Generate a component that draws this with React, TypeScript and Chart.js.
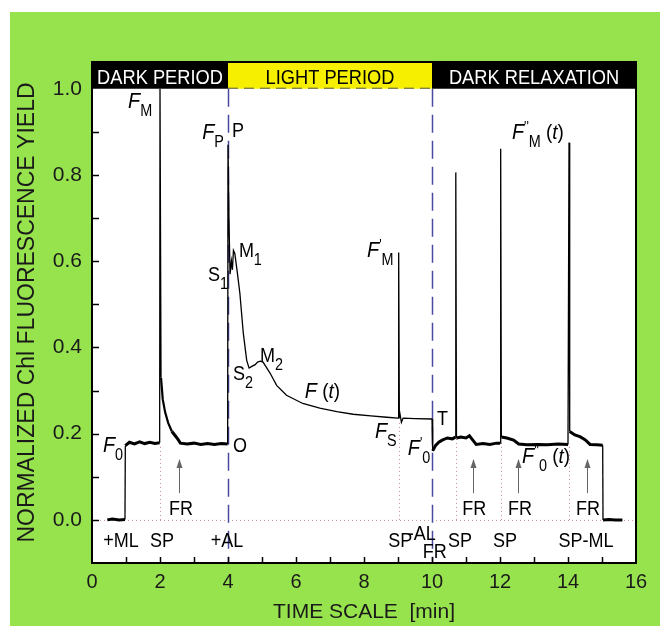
import React, { useEffect, useRef } from "react";
import { Chart, registerables } from "chart.js";

Chart.register(...registerables);

// ---- data (time in min, normalized Chl fluorescence yield) ----
const darkTime = [0.45, 0.6, 0.8, 0.97, 0.98, 1.1, 1.25, 1.4, 1.55, 1.7, 1.85, 1.99, 2.0, 2.02, 2.03, 2.08, 2.15, 2.24, 2.35, 2.5, 2.6, 2.8, 3.0, 3.2, 3.4, 3.6, 3.8, 3.99];
const darkYield = [0.0, 0.002, 0.0, 0.001, 0.172, 0.18, 0.176, 0.181, 0.177, 0.18, 0.177, 0.179, 1.0, 1.0, 0.33, 0.28, 0.25, 0.225, 0.205, 0.19, 0.178, 0.176, 0.178, 0.175, 0.177, 0.175, 0.177, 0.176];
const lightTime = [4.0, 4.03, 4.06, 4.1, 4.13, 4.16, 4.2, 4.28, 4.35, 4.45, 4.55, 4.62, 4.7, 4.8, 4.87, 4.95, 5.03, 5.12, 5.24, 5.43, 5.72, 6.2, 6.7, 7.2, 7.68, 8.2, 8.67, 9.0, 9.02, 9.04, 9.06, 9.1, 9.15, 9.5, 9.99];
const lightYield = [0.87, 0.69, 0.57, 0.6, 0.58, 0.625, 0.618, 0.57, 0.525, 0.433, 0.37, 0.352, 0.356, 0.36, 0.366, 0.368, 0.366, 0.355, 0.34, 0.312, 0.289, 0.27, 0.259, 0.251, 0.245, 0.241, 0.238, 0.236, 0.62, 0.236, 0.245, 0.226, 0.236, 0.235, 0.234];
const relaxTime = [10.0, 10.02, 10.1, 10.2, 10.3, 10.45, 10.6, 10.69, 10.7, 10.72, 10.85, 11.0, 11.1, 11.2, 11.3, 11.5, 11.7, 11.9, 12.0, 12.02, 12.04, 12.2, 12.4, 12.55, 12.8, 13.1, 13.4, 13.7, 14.0, 14.03, 14.05, 14.2, 14.35, 14.5, 14.65, 14.85, 15.02, 15.03, 15.2, 15.4, 15.6];
const relaxYield = [0.234, 0.16, 0.172, 0.18, 0.185, 0.19, 0.188, 0.192, 0.806, 0.19, 0.192, 0.19, 0.195, 0.185, 0.175, 0.177, 0.175, 0.178, 0.178, 0.861, 0.192, 0.19, 0.185, 0.176, 0.174, 0.175, 0.174, 0.176, 0.175, 0.875, 0.205, 0.197, 0.193, 0.186, 0.175, 0.174, 0.173, 0.0, 0.001, 0.0, 0.0];

const xTickValues = [0, 2, 4, 6, 8, 10, 12, 14, 16];
const yTickValues = [0.0, 0.2, 0.4, 0.6, 0.8, 1.0];
const periodNames = ["DARK PERIOD", "LIGHT PERIOD", "DARK RELAXATION"];
const periodBounds = [0, 4, 10, 16];
const frArrowTimes = [2.56, 11.2, 12.53, 14.56];
const frLabelTimes = [2.62, 11.24, 12.59, 14.59];
const dottedTimes = [2.0, 9.03, 10.7, 12.02, 14.03];
const dottedTops = [0.17, 0.23, 0.19, 0.178, 0.175];

const FONT = "'Liberation Sans', Arial, sans-serif";

type Part = { t: string; size: number; italic?: boolean; dy?: number };

function drawParts(ctx: CanvasRenderingContext2D, x: number, y: number, parts: Part[], sx = 0.9) {
  ctx.save();
  ctx.translate(x, y);
  ctx.scale(sx, 1);
  let cx = 0;
  for (const p of parts) {
    ctx.font = `${p.italic ? "italic " : ""}${p.size}px ${FONT}`;
    ctx.fillText(p.t, cx, p.dy || 0);
    cx += ctx.measureText(p.t).width;
  }
  ctx.restore();
}

function partsWidth(ctx: CanvasRenderingContext2D, parts: Part[], sx = 0.9) {
  let w = 0;
  for (const p of parts) {
    ctx.font = `${p.italic ? "italic " : ""}${p.size}px ${FONT}`;
    w += ctx.measureText(p.t).width;
  }
  return w * sx;
}

const bgPlugin = {
  id: "bg",
  beforeDraw(chart: any) {
    const ctx = chart.ctx;
    const { left, top, right, bottom } = chart.chartArea;
    ctx.save();
    ctx.fillStyle = "#ffffff";
    ctx.fillRect(0, 0, chart.width, chart.height);
    ctx.fillStyle = "#97e34e";
    ctx.fillRect(10, 12, 650, chart.height - 12);
    ctx.fillStyle = "#ffffff";
    ctx.fillRect(left, top, right - left, bottom - top);
    ctx.restore();
  },
  beforeDatasetsDraw(chart: any) {
    const ctx = chart.ctx;
    const xs = chart.scales.x;
    const ys = chart.scales.y;
    const { bottom } = chart.chartArea;
    ctx.save();
    // dotted zero line
    ctx.strokeStyle = "#c98a8a";
    ctx.lineWidth = 1;
    ctx.setLineDash([1, 3]);
    ctx.beginPath();
    ctx.moveTo(xs.getPixelForValue(0), ys.getPixelForValue(0) + 0.5);
    ctx.lineTo(xs.getPixelForValue(16), ys.getPixelForValue(0) + 0.5);
    ctx.stroke();
    dottedTimes.forEach((t, i) => {
      const px = Math.round(xs.getPixelForValue(t)) + 0.5;
      ctx.beginPath();
      ctx.moveTo(px, ys.getPixelForValue(0));
      ctx.lineTo(px, ys.getPixelForValue(dottedTops[i]));
      ctx.stroke();
    });
    // dashed period separators
    ctx.strokeStyle = "#4a4aa0";
    ctx.lineWidth = 1.5;
    ctx.setLineDash([18, 8]);
    [4, 10].forEach((t) => {
      const px = Math.round(xs.getPixelForValue(t)) + 0.5;
      ctx.beginPath();
      ctx.moveTo(px, ys.getPixelForValue(1.0));
      ctx.lineTo(px, bottom);
      ctx.stroke();
    });
    ctx.setLineDash([]);
    ctx.restore();
  },
  afterDatasetsDraw(chart: any) {
    const ctx = chart.ctx;
    const xs = chart.scales.x;
    const ys = chart.scales.y;
    const { left, top, right, bottom } = chart.chartArea;
    const X = (t: number) => xs.getPixelForValue(t);
    const Y = (v: number) => ys.getPixelForValue(v);
    ctx.save();
    // header bars
    const hb = Y(1.0);
    for (let i = 0; i < 3; i++) {
      const x0 = X(periodBounds[i]);
      const x1 = X(periodBounds[i + 1]);
      ctx.fillStyle = i === 1 ? "#f6f000" : "#000000";
      ctx.fillRect(x0, top, x1 - x0, hb - top);
      ctx.fillStyle = i === 1 ? "#000000" : "#ffffff";
      const parts = [{ t: periodNames[i], size: 21 }];
      const w = partsWidth(ctx, parts, 0.87);
      drawParts(ctx, (x0 + x1) / 2 - w / 2, top + 22, parts, 0.87);
    }
    ctx.strokeStyle = "#555";
    ctx.lineWidth = 1;
    ctx.setLineDash([10, 6]);
    ctx.beginPath();
    ctx.moveTo(X(4), hb - 0.5);
    ctx.lineTo(X(10), hb - 0.5);
    ctx.stroke();
    ctx.setLineDash([]);

    // inward tick marks
    ctx.strokeStyle = "#000";
    ctx.lineWidth = 1.5;
    ctx.beginPath();
    for (let t = 1; t < 16; t++) {
      const px = Math.round(X(t)) + 0.5;
      ctx.moveTo(px, bottom);
      ctx.lineTo(px, bottom - 6);
    }
    for (let k = 0; k <= 9; k++) {
      const py = Math.round(Y(k / 10)) + 0.5;
      ctx.moveTo(left, py);
      ctx.lineTo(left + 7, py);
    }
    ctx.stroke();

    // border
    ctx.lineWidth = 2;
    ctx.strokeRect(left, top, right - left, bottom - top);

    // FR arrows
    ctx.strokeStyle = "#666";
    ctx.fillStyle = "#666";
    ctx.lineWidth = 1;
    frArrowTimes.forEach((t) => {
      const px = Math.round(X(t)) + 0.5;
      const y0 = Y(0.062);
      const y1 = Y(0.139);
      ctx.beginPath();
      ctx.moveTo(px, y0);
      ctx.lineTo(px, y1);
      ctx.stroke();
      ctx.beginPath();
      ctx.moveTo(px, y1 - 1);
      ctx.lineTo(px - 3, y1 + 8);
      ctx.lineTo(px + 3, y1 + 8);
      ctx.closePath();
      ctx.fill();
    });

    // text annotations
    ctx.fillStyle = "#000";
    ctx.textBaseline = "alphabetic";
    ctx.textAlign = "left";
    const F = (s = "F"): Part => ({ t: s, size: 22, italic: true });
    const sub = (s: string): Part => ({ t: s, size: 16, dy: 8 });
    const up = (s: string): Part => ({ t: s, size: 20 });
    const at = (t: number, v: number, parts: Part[]) => drawParts(ctx, X(t), Y(v), parts);
    at(1.06, 0.956, [F(), sub("M")]);
    at(3.24, 0.884, [F(), sub("P")]);
    at(4.12, 0.887, [up("P")]);
    at(3.41, 0.553, [up("S"), sub("1")]);
    at(4.32, 0.609, [up("M"), sub("1")]);
    at(4.15, 0.324, [up("S"), sub("2")]);
    at(4.94, 0.366, [up("M"), sub("2")]);
    at(6.26, 0.282, [F(), { t: " (", size: 21 }, { t: "t", size: 21, italic: true }, { t: ")", size: 21 }]);
    at(8.09, 0.609, [F(), { t: "'", size: 14, dy: -8 }, { t: "M", size: 16, dy: 8 }]);
    at(8.32, 0.19, [F(), sub("S")]);
    at(9.29, 0.15, [F(), { t: "'", size: 14, dy: -8 }, { t: "0", size: 16, dy: 8 }]);
    at(10.15, 0.22, [up("T")]);
    at(12.35, 0.884, [F(), { t: "''", size: 14, dy: -8 }, { t: "M", size: 16, dy: 8 }, { t: " (", size: 21 }, { t: "t", size: 21, italic: true }, { t: ")", size: 21 }]);
    at(12.65, 0.132, [F(), { t: "''", size: 14, dy: -8 }, { t: "0", size: 16, dy: 8 }, { t: " (", size: 21 }, { t: "t", size: 21, italic: true }, { t: ")", size: 21 }]);
    at(0.32, 0.157, [F(), sub("0")]);
    at(4.15, 0.157, [up("O")]);

    const centered = (t: number, v: number, parts: Part[]) => {
      const w = partsWidth(ctx, parts);
      drawParts(ctx, X(t) - w / 2, Y(v), parts);
    };
    frLabelTimes.forEach((t) => centered(t, 0.012, [up("FR")]));
    centered(0.85, -0.0625, [up("+ML")]);
    centered(2.06, -0.0625, [up("SP")]);
    centered(3.97, -0.0625, [up("+AL")]);
    at(8.71, -0.0625, [up("SP")]);
    at(9.29, -0.046, [up("-AL")]);
    at(9.73, -0.088, [up("FR")]);
    at(10.47, -0.0625, [up("SP")]);
    centered(12.15, -0.0625, [up("SP")]);
    centered(14.53, -0.0625, [up("SP-ML")]);
    ctx.restore();
  },
};

function toPoints(ts: number[], vs: number[]) {
  return ts.map((t, i) => ({ x: t, y: vs[i] }));
}

export default function App() {
  const ref = useRef<HTMLCanvasElement | null>(null);
  useEffect(() => {
    if (!ref.current) return;
    const points = [
      ...toPoints(darkTime, darkYield),
      ...toPoints(lightTime, lightYield),
      ...toPoints(relaxTime, relaxYield),
    ];
    const chart = new Chart(ref.current, {
      type: "line",
      data: {
        datasets: [
          {
            data: points,
            borderColor: "#000",
            borderWidth: 1.3,
            pointRadius: 0,
            tension: 0,
            segment: {
              borderWidth: (c: any) => {
                const a = c.p0.parsed.y, b = c.p1.parsed.y;
                if (Math.abs(a - b) > 0.05) return 1.3;
                if (a < 0.215 && b < 0.215) return 3;
                if (a < 0.34 && b < 0.34 && c.p0.parsed.x < 3) return 2.2;
                return 1.3;
              },
            },
          },
        ],
      },
      options: {
        responsive: false,
        animation: false,
        devicePixelRatio: 1,
        layout: { padding: { left: 0, top: 62, right: 27, bottom: 0 } },
        plugins: { legend: { display: false }, tooltip: { enabled: false } },
        scales: {
          x: {
            type: "linear",
            min: 0,
            max: 16,
            afterBuildTicks: (s: any) => {
              s.ticks = xTickValues.map((v) => ({ value: v }));
            },
            afterFit: (s: any) => {
              s.height = 63;
            },
            grid: { display: false, drawTicks: false },
            border: { display: false },
            ticks: { padding: 7, color: "#1a1a1a", font: { family: FONT, size: 20 }, maxRotation: 0, autoSkip: false },
            title: { display: true, text: "TIME SCALE  [min]", color: "#1a1a1a", font: { family: FONT, size: 21, lineHeight: 1 }, padding: { top: 0, bottom: 3 } },
          },
          y: {
            type: "linear",
            min: -0.1,
            max: 1.062,
            afterBuildTicks: (s: any) => {
              s.ticks = yTickValues.map((v) => ({ value: v }));
            },
            afterFit: (s: any) => {
              s.width = 92;
            },
            grid: { display: false, drawTicks: false },
            border: { display: false },
            ticks: { padding: 10, color: "#1a1a1a", font: { family: FONT, size: 21 }, callback: (v: any) => Number(v).toFixed(1) },
            title: { display: true, text: "NORMALIZED Chl FLUORESCENCE YIELD", color: "#1a1a1a", font: { family: FONT, size: 23, lineHeight: 1 }, padding: { top: 16, bottom: 0 } },
          },
        },
      },
      plugins: [bgPlugin],
    } as any);
    return () => chart.destroy();
  }, []);
  return (
    <div style={{ position: "fixed", left: 0, top: 0, width: 663, height: 626 }}>
      <canvas ref={ref} width={663} height={626} style={{ display: "block" }} />
    </div>
  );
}
